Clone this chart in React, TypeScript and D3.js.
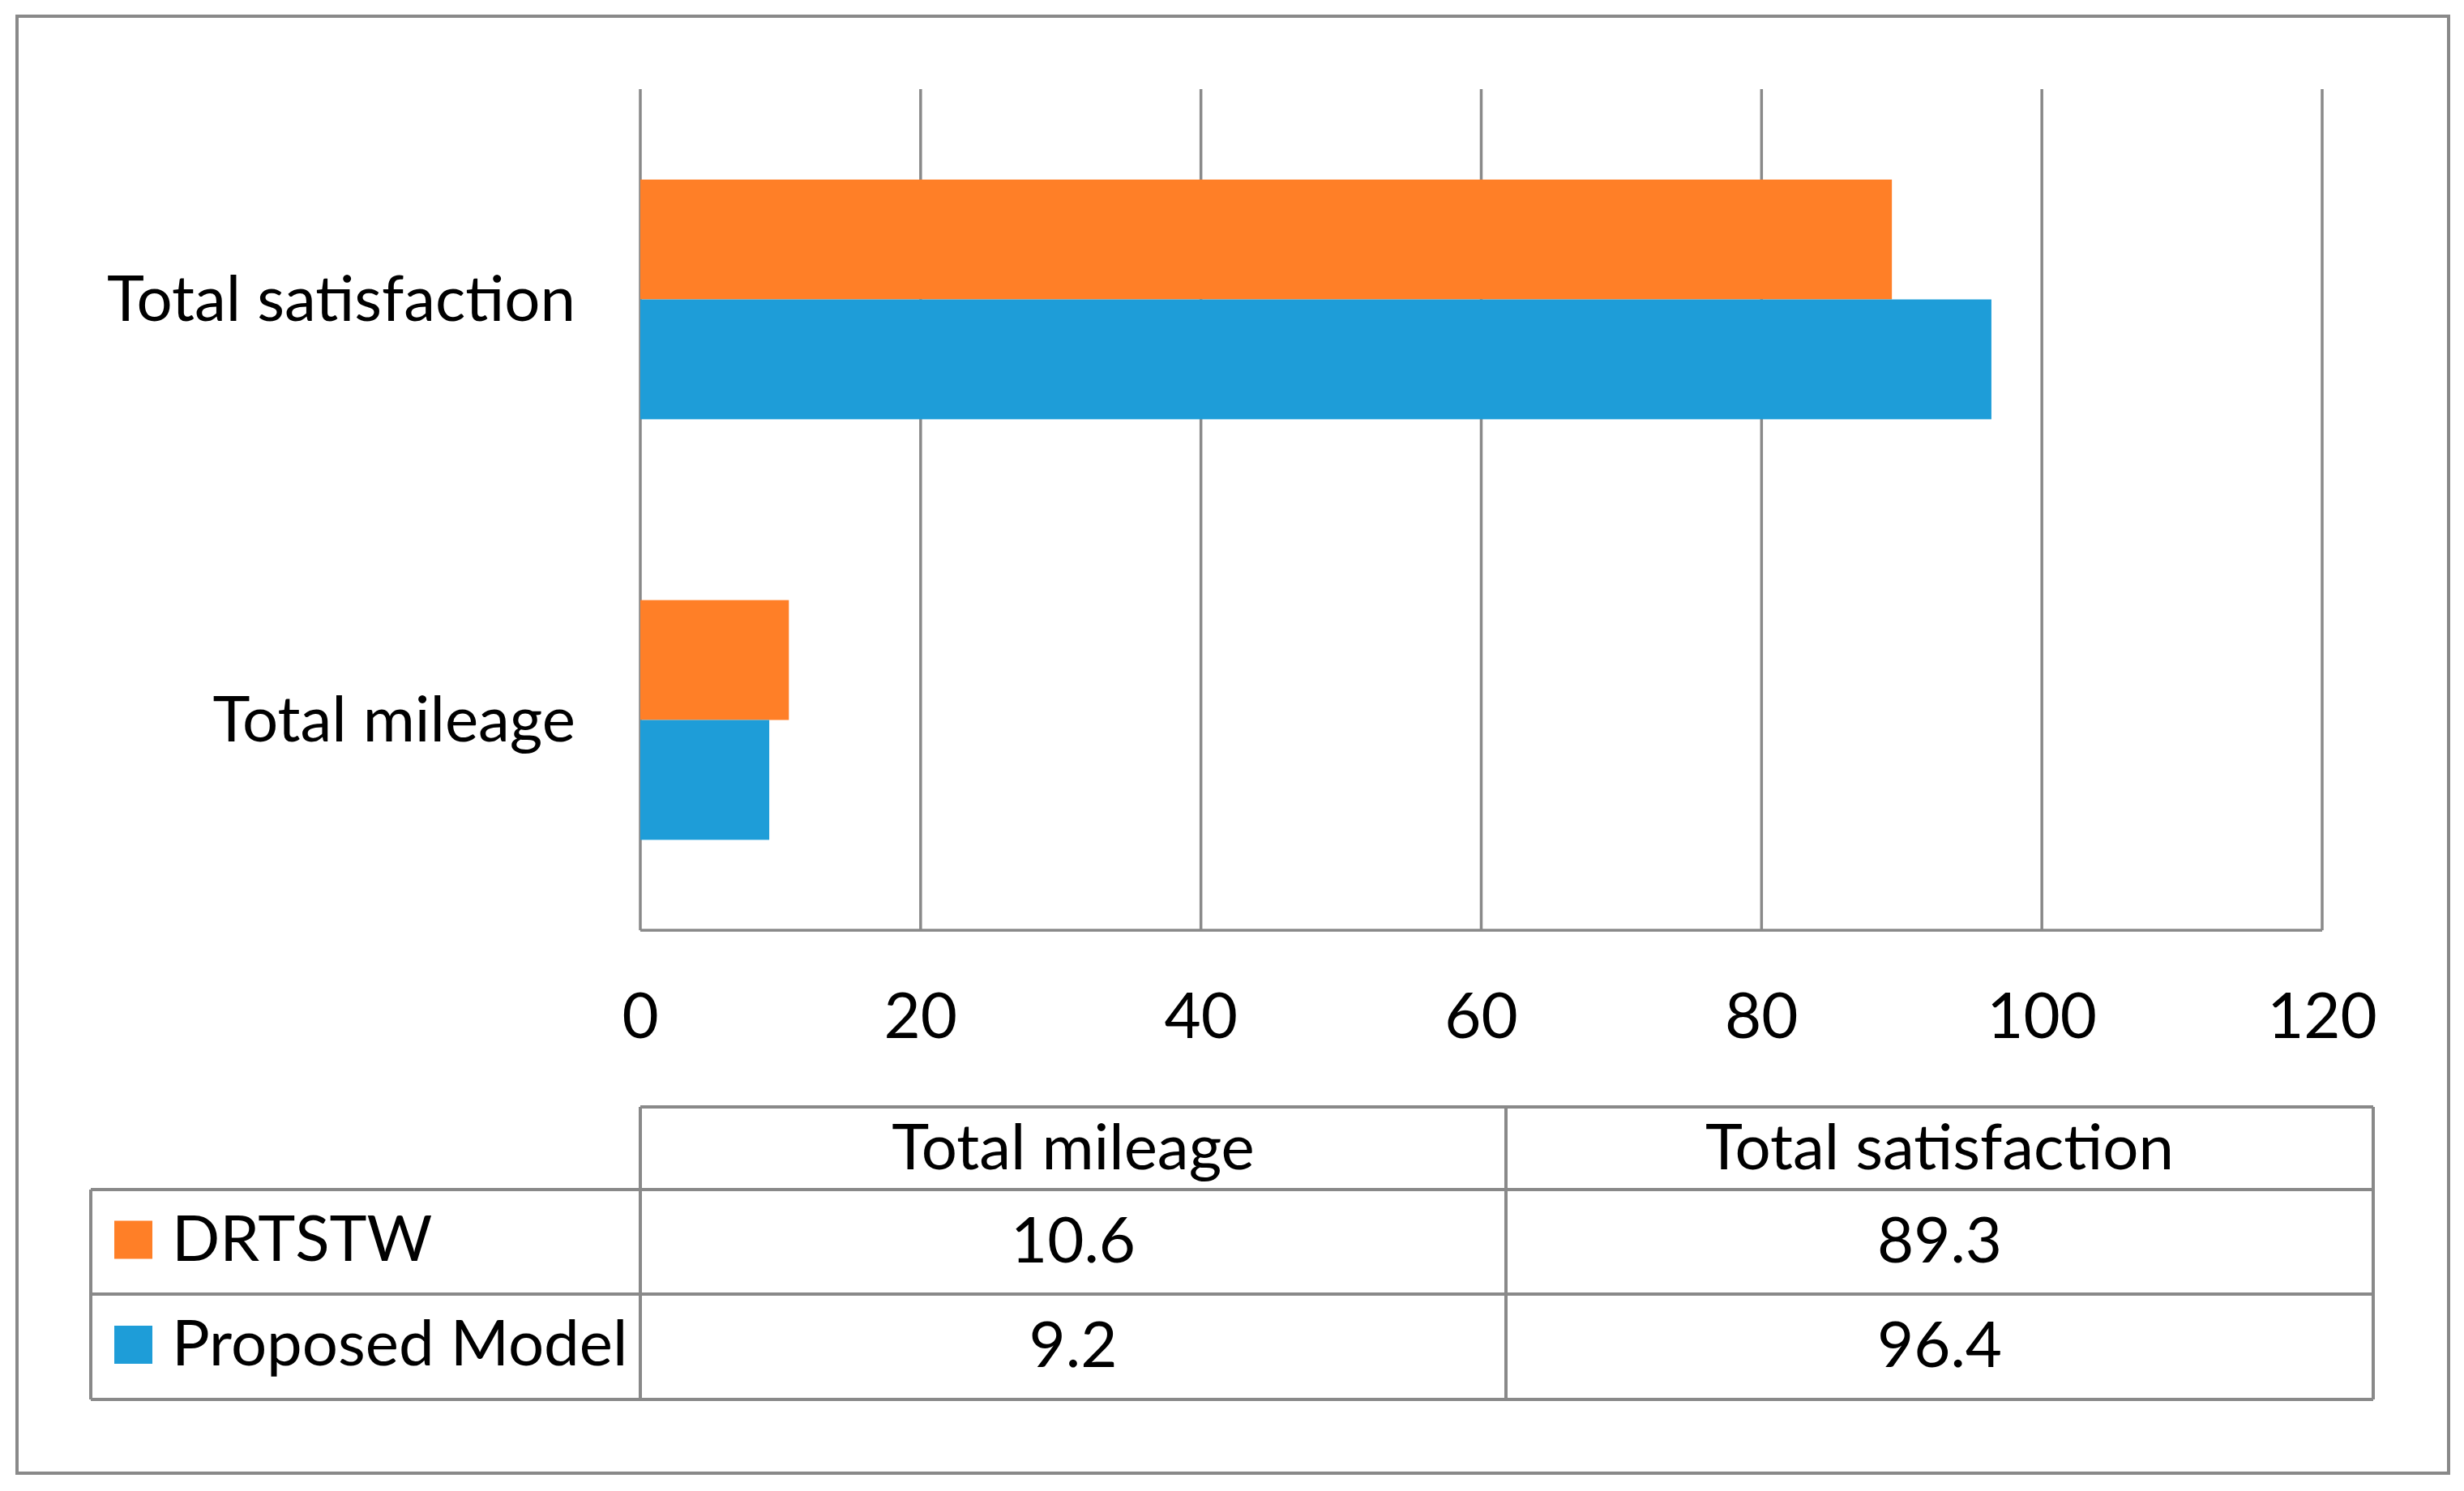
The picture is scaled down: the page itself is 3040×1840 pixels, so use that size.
import React from "react";
import * as d3 from "d3";

const categories = ["Total mileage", "Total satisfaction"];
const seriesNames = ["DRTSTW", "Proposed Model"];
const drtstwValues = [10.6, 89.3];
const proposedValues = [9.2, 96.4];
const xTicks = [0, 20, 40, 60, 80, 100, 120];
const seriesColors = ["#FF7F27", "#1E9DD8"];

const W = 3040;
const H = 1840;
const FONT = "Lato, 'Open Sans', sans-serif";
const FS = 78;
const GRID = "#898989";

export default function App() {
  const plotLeft = 790;
  const plotRight = 2865;
  const plotTop = 110;
  const plotBottom = 1148;

  const x = d3.scaleLinear().domain([0, 120]).range([plotLeft, plotRight]);
  // Excel-style: first category at bottom
  const y = d3
    .scaleBand<string>()
    .domain([...categories].reverse())
    .range([plotTop, plotBottom])
    .paddingInner(0.43)
    .paddingOuter(0.215);
  const ys = d3.scaleBand<string>().domain(seriesNames).range([0, y.bandwidth()]);

  const seriesData = [drtstwValues, proposedValues];

  // table geometry
  const tLeft = 112;
  const colEdges = [tLeft, plotLeft, 1858, 2928];
  const rowEdges = [1366, 1468, 1597, 1727];

  const fmt = (v: number) => d3.format(".1f")(v);

  return (
    <svg
      width={W}
      height={H}
      style={{ position: "absolute", left: 0, top: 0, background: "#fff" }}
      fontFamily={FONT}
    >
      <rect x={0} y={0} width={W} height={H} fill="#fff" />
      {/* outer frame */}
      <rect x={21} y={20} width={3000} height={1798} fill="none" stroke={GRID} strokeWidth={4} />

      {/* vertical gridlines */}
      {xTicks.map((t) => (
        <line
          key={"g" + t}
          x1={x(t)}
          x2={x(t)}
          y1={plotTop}
          y2={plotBottom}
          stroke={GRID}
          strokeWidth={3.5}
        />
      ))}
      {/* bottom axis line */}
      <line x1={plotLeft} x2={plotRight} y1={plotBottom} y2={plotBottom} stroke={GRID} strokeWidth={3.5} />

      {/* bars */}
      {seriesData.map((vals, si) =>
        vals.map((v, ci) => (
          <rect
            key={`b${si}-${ci}`}
            x={x(0)}
            y={(y(categories[ci]) as number) + (ys(seriesNames[si]) as number)}
            width={x(v) - x(0)}
            height={ys.bandwidth()}
            fill={seriesColors[si]}
          />
        ))
      )}

      {/* category labels */}
      {categories.map((c) => (
        <text
          key={"c" + c}
          x={710}
          y={(y(c) as number) + y.bandwidth() / 2 + 26}
          textAnchor="end"
          fontSize={FS}
          fill="#000"
        >
          {c}
        </text>
      ))}

      {/* tick labels */}
      {xTicks.map((t) => (
        <text key={"t" + t} x={x(t)} y={1281} textAnchor="middle" fontSize={FS} fill="#000">
          {t}
        </text>
      ))}

      {/* data table lines */}
      <line x1={colEdges[1]} x2={colEdges[3]} y1={rowEdges[0]} y2={rowEdges[0]} stroke={GRID} strokeWidth={4} />
      {[1, 2, 3].map((r) => (
        <line
          key={"r" + r}
          x1={colEdges[0]}
          x2={colEdges[3]}
          y1={rowEdges[r]}
          y2={rowEdges[r]}
          stroke={GRID}
          strokeWidth={4}
        />
      ))}
      <line x1={colEdges[0]} x2={colEdges[0]} y1={rowEdges[1]} y2={rowEdges[3]} stroke={GRID} strokeWidth={4} />
      {[1, 2, 3].map((c) => (
        <line
          key={"v" + c}
          x1={colEdges[c]}
          x2={colEdges[c]}
          y1={rowEdges[0]}
          y2={rowEdges[3]}
          stroke={GRID}
          strokeWidth={4}
        />
      ))}

      {/* header labels */}
      {categories.map((c, ci) => (
        <text
          key={"h" + c}
          x={(colEdges[ci + 1] + colEdges[ci + 2]) / 2}
          y={(rowEdges[0] + rowEdges[1]) / 2 + 26}
          textAnchor="middle"
          fontSize={FS}
          fill="#000"
        >
          {c}
        </text>
      ))}

      {/* series rows */}
      {seriesNames.map((s, si) => {
        const cy = (rowEdges[si + 1] + rowEdges[si + 2]) / 2;
        return (
          <g key={"s" + s}>
            <rect x={141} y={cy - 26} width={47} height={47} fill={seriesColors[si]} />
            <text x={212} y={cy + 23} fontSize={FS} fill="#000">
              {s}
            </text>
            {seriesData[si].map((v, ci) => (
              <text
                key={"d" + ci}
                x={(colEdges[ci + 1] + colEdges[ci + 2]) / 2}
                y={cy + 25}
                textAnchor="middle"
                fontSize={FS}
                fill="#000"
              >
                {fmt(v)}
              </text>
            ))}
          </g>
        );
      })}
    </svg>
  );
}
